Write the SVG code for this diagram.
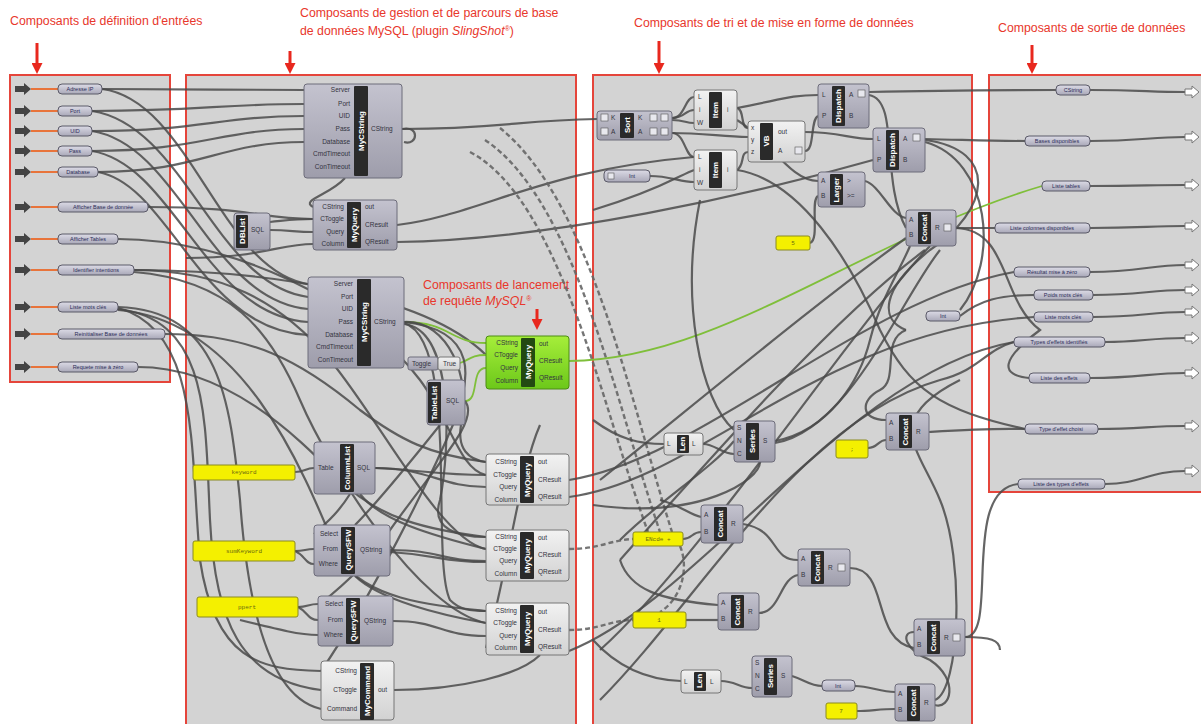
<svg xmlns="http://www.w3.org/2000/svg" width="1201" height="724" viewBox="0 0 1201 724">
<defs>
<linearGradient id="gComp" x1="0" y1="0" x2="0" y2="1"><stop offset="0" stop-color="#c4c3cf"/><stop offset="1" stop-color="#9e9dab"/></linearGradient>
<linearGradient id="gLight" x1="0" y1="0" x2="0" y2="1"><stop offset="0" stop-color="#f2f2f2"/><stop offset="1" stop-color="#d2d2d2"/></linearGradient>
<linearGradient id="gPill" x1="0" y1="0" x2="0" y2="1"><stop offset="0" stop-color="#dcdbe6"/><stop offset="1" stop-color="#a9a8b8"/></linearGradient>
<linearGradient id="gGreen" x1="0" y1="0" x2="0" y2="1"><stop offset="0" stop-color="#a6ee3a"/><stop offset="1" stop-color="#6cc81a"/></linearGradient>
<marker id="ra" markerWidth="11" markerHeight="11" refX="1" refY="5.5" orient="auto" markerUnits="userSpaceOnUse"><path d="M0,0 L11,5.5 L0,11 Z" fill="#e8281e"/></marker>
</defs>
<style>
.panel{fill:#d3d3d3;stroke:#e5453b;stroke-width:2}
.title{font-family:"Liberation Sans",Arial,sans-serif;font-size:12.3px;fill:#e8372c}
.rarrow{stroke:#e8281e;stroke-width:3;fill:none}
.comp{fill:url(#gComp);stroke:#6d6c7a;stroke-width:1}
.light{fill:url(#gLight);stroke:#777;stroke-width:1}
.green{fill:url(#gGreen);stroke:#4c8c14;stroke-width:1}
.band{fill:#2a2a2a}
.gband{fill:#234a12}
.pl{font-family:"Liberation Sans",Arial,sans-serif;font-size:6.5px;fill:#333340}
.pe{text-anchor:end}
.vl{font-family:"Liberation Sans",Arial,sans-serif;font-size:8px;font-weight:bold;fill:#ffffff;text-anchor:middle}
.pill{fill:url(#gPill);stroke:#5b5a68;stroke-width:1}
.pt{font-family:"Liberation Sans",Arial,sans-serif;font-size:5.5px;fill:#2c2c58;text-anchor:middle}
.yel{fill:#f4f000;stroke:#8a8a20;stroke-width:1}
.yt{font-family:"Liberation Mono",monospace;font-size:6px;fill:#6a6a10;text-anchor:middle}
.wire{fill:none;stroke:#4a4a4a;stroke-width:2.2;opacity:0.85}
.dash{fill:none;stroke:#666;stroke-width:2.4;stroke-dasharray:5 3;opacity:0.9}
.gw{fill:none;stroke:#7fbf3a;stroke-width:1.8}
.or{stroke:#e8743b;stroke-width:2}
.inarr{fill:#444}
.outarr{fill:#ffffff;stroke:#777;stroke-width:1}
.ic{fill:#e8e8ee;stroke:#555;stroke-width:0.6}
</style>

<g id="panels">
<rect class="panel" x="10" y="75" width="160" height="307"/>
<rect class="panel" x="186" y="75" width="390" height="652"/>
<rect class="panel" x="593" y="75" width="379" height="652"/>
<rect class="panel" x="989" y="75" width="215" height="417"/>
</g>

<g id="titles">
<text class="title" x="10" y="25">Composants de définition d'entrées</text>
<text class="title" x="300" y="17">Composants de gestion et de parcours de base</text>
<text class="title" x="300" y="35">de données MySQL (plugin <tspan font-style="italic">SlingShot</tspan><tspan font-size="7px" dy="-4">®</tspan><tspan dy="4">)</tspan></text>
<text class="title" x="634" y="27">Composants de tri et de mise en forme de données</text>
<text class="title" x="998" y="32">Composants de sortie de données</text>
<text class="title" x="423" y="289">Composants de lancement</text>
<text class="title" x="423" y="305">de requête <tspan font-style="italic">MySQL</tspan><tspan font-size="7px" dy="-4">®</tspan></text>
<line class="rarrow" x1="37" y1="43" x2="37" y2="64" marker-end="url(#ra)"/>
<line class="rarrow" x1="290" y1="51" x2="290" y2="64" marker-end="url(#ra)"/>
<line class="rarrow" x1="659" y1="41" x2="659" y2="64" marker-end="url(#ra)"/>
<line class="rarrow" x1="1032" y1="45" x2="1032" y2="64" marker-end="url(#ra)"/>
<line class="rarrow" x1="537" y1="309" x2="537" y2="320" marker-end="url(#ra)"/>
</g>

<g id="connectors">
<path class="wire" d="M102,89 C200,89 220,90 304,90"/>
<path class="wire" d="M92,111 C200,111 220,104 304,104"/>
<path class="wire" d="M92,131 C200,131 220,116 304,116"/>
<path class="wire" d="M92,151 C200,151 220,129 304,129"/>
<path class="wire" d="M98,172 C200,172 220,142 304,142"/>
<path class="wire" d="M102,89 C190,100 220,270 308,284"/>
<path class="wire" d="M92,111 C185,125 215,285 308,297"/>
<path class="wire" d="M92,131 C180,145 210,300 308,309"/>
<path class="wire" d="M92,151 C175,165 205,315 308,322"/>
<path class="wire" d="M98,172 C170,185 200,330 308,335"/>
<path class="wire" d="M148,207 C250,207 260,219 313,219"/>
<path class="wire" d="M118,239 C230,239 360,300 420,380 C450,420 460,470 486,475"/>
<path class="wire" d="M134,270 C220,270 280,300 330,360 C380,420 440,540 486,549"/>
<path class="wire" d="M134,272 C230,280 270,330 300,400 C330,470 420,610 486,623"/>
<path class="wire" d="M134,270 C250,270 420,290 486,355"/>
<path class="wire" d="M118,307 C220,310 230,400 240,500 C250,640 280,700 321,709"/>
<path class="wire" d="M118,309 C210,320 205,420 210,520 C215,620 240,680 321,690"/>
<path class="wire" d="M118,308 C200,330 190,450 200,560 C215,660 260,670 321,671"/>
<path class="wire" d="M165,334 C250,334 300,360 360,410 C400,440 430,455 486,462"/>
<path class="wire" d="M138,367 C230,367 300,440 340,480 C380,520 430,530 486,537"/>
<path class="wire" d="M118,310 C240,320 300,460 340,560 C370,600 430,605 486,611"/>
<path class="wire" d="M402,129 C420,125 418,146 404,142"/>
<path class="wire" d="M345,178 C330,195 300,200 313,207"/>
<path class="wire" d="M270,230 C290,230 295,232 313,232"/>
<path class="wire" d="M270,222 C290,220 295,219 313,219"/>
<path class="wire" d="M402,129 C500,129 520,120 597,119"/>
<path class="wire" d="M186,258 C260,258 280,244 313,244"/>
<path class="wire" d="M397,225 C480,215 540,170 694,157"/>
<path class="wire" d="M397,242 C550,240 750,195 873,160"/>
<path class="gw" d="M404,322 C450,322 450,343 486,343"/>
<path class="gw" d="M460,363 C470,360 470,355 486,355"/>
<path class="gw" d="M465,401 C480,401 470,368 486,368"/>
<path class="wire" d="M404,322 C450,320 470,380 462,420 C455,450 470,460 486,462"/>
<path class="wire" d="M404,324 C455,330 450,450 440,500 C430,530 460,537 486,537"/>
<path class="wire" d="M404,323 C460,340 430,560 450,600 C460,610 470,611 486,611"/>
<path class="wire" d="M404,322 C480,330 470,380 455,420 C430,480 370,600 321,671"/>
<path class="wire" d="M465,401 C480,420 440,460 390,530 C370,560 350,580 320,604"/>
<path class="wire" d="M440,425 C420,450 380,500 355,525"/>
<path class="wire" d="M295,472 C305,472 305,468 314,468"/>
<path class="wire" d="M375,468 C430,468 440,487 486,487"/>
<path class="wire" d="M375,468 C420,470 440,475 486,475"/>
<path class="wire" d="M295,551 C305,551 305,549 314,549"/>
<path class="wire" d="M295,551 C305,555 305,564 314,564"/>
<path class="wire" d="M390,550 C440,550 440,561 486,561"/>
<path class="wire" d="M390,552 C440,555 440,562 486,562"/>
<path class="wire" d="M298,607 C308,607 308,604 318,604"/>
<path class="wire" d="M298,607 C308,612 308,620 318,620"/>
<path class="wire" d="M240,620 C280,630 300,635 318,635"/>
<path class="wire" d="M393,621 C440,621 440,636 486,636"/>
<path class="wire" d="M394,690 C460,690 520,675 540,655"/>
<path class="wire" d="M350,494 C340,510 330,520 314,534"/>
<path class="wire" d="M360,494 C380,520 430,535 486,549"/>
<path class="wire" d="M355,576 C380,600 440,615 486,623"/>
<path class="wire" d="M540,425 C520,470 510,560 486,648"/>
<path class="dash" d="M470,152 C560,200 600,400 648,532"/>
<path class="dash" d="M485,140 C575,200 615,400 660,532"/>
<path class="dash" d="M500,128 C590,200 630,400 672,532"/>
<path class="dash" d="M569,549 C600,549 610,540 633,539"/>
<path class="dash" d="M569,630 C600,630 610,620 633,620"/>
<path class="dash" d="M680,546 C690,570 680,600 660,612"/>
<path class="gw" d="M569,361 C720,360 860,240 1042,186"/>
<path class="wire" d="M672,118 C685,118 685,97 694,97"/>
<path class="wire" d="M672,118 C685,118 685,110 694,110"/>
<path class="wire" d="M672,120 C685,120 685,123 694,123"/>
<path class="wire" d="M672,133 C685,133 685,157 694,157"/>
<path class="wire" d="M672,133 C700,133 720,136 748,137"/>
<path class="wire" d="M650,176 C670,176 680,182 694,182"/>
<path class="wire" d="M593,210 C660,190 680,175 694,170"/>
<path class="wire" d="M737,108 C780,100 790,95 818,95"/>
<path class="wire" d="M737,108 C745,110 740,128 748,128"/>
<path class="wire" d="M737,170 C745,165 740,152 748,152"/>
<path class="wire" d="M805,132 C840,132 850,139 873,139"/>
<path class="wire" d="M805,151 C815,151 810,120 818,116"/>
<path class="wire" d="M737,120 C770,140 790,181 818,181"/>
<path class="wire" d="M810,243 C820,240 810,200 818,196"/>
<path class="wire" d="M869,92 C950,90 1000,90 1056,90"/>
<path class="wire" d="M925,139 C970,140 990,141 1025,141"/>
<path class="wire" d="M956,228 C975,228 980,228 995,228"/>
<path class="wire" d="M956,228 C1010,230 1000,300 1040,330 C1000,360 1000,375 1029,378"/>
<path class="wire" d="M960,316 C980,300 1000,295 1034,295"/>
<path class="wire" d="M925,142 C990,160 1000,260 960,310"/>
<path class="wire" d="M925,140 C1000,150 990,210 930,250 C880,290 880,320 906,330"/>
<path class="wire" d="M869,95 C900,100 880,180 906,228"/>
<path class="wire" d="M865,181 C880,185 890,215 906,218"/>
<path class="wire" d="M737,170 C800,180 850,260 880,330 C910,390 940,410 1025,429"/>
<path class="wire" d="M569,480 C700,460 860,300 1014,272"/>
<path class="wire" d="M569,497 C700,480 820,330 1034,317"/>
<path class="wire" d="M569,651 C700,600 850,370 1014,342"/>
<path class="wire" d="M600,480 C700,400 820,300 906,238"/>
<path class="wire" d="M620,560 C700,470 830,320 925,250"/>
<path class="wire" d="M600,650 C700,560 850,330 930,246"/>
<path class="wire" d="M703,444 C715,444 722,454 734,454"/>
<path class="wire" d="M593,420 C620,440 640,444 664,444"/>
<path class="wire" d="M775,441 C830,430 860,380 870,340 C880,300 900,270 910,246"/>
<path class="wire" d="M775,443 C850,430 900,300 940,250"/>
<path class="wire" d="M734,430 C700,400 680,300 700,200"/>
<path class="wire" d="M734,441 C710,470 660,500 620,540"/>
<path class="wire" d="M886,420 C860,420 860,400 880,390 C900,380 880,340 906,330"/>
<path class="wire" d="M868,448 C878,448 878,440 886,440"/>
<path class="wire" d="M929,432 C960,430 990,428 1025,429"/>
<path class="wire" d="M683,539 C692,539 692,532 701,532"/>
<path class="wire" d="M660,500 C680,505 690,515 701,517"/>
<path class="wire" d="M743,524 C780,530 770,560 798,560"/>
<path class="wire" d="M759,613 C780,613 780,578 798,575"/>
<path class="wire" d="M686,620 C700,620 705,620 718,620"/>
<path class="wire" d="M620,560 C630,590 660,600 718,605"/>
<path class="wire" d="M850,568 C890,568 870,640 914,648"/>
<path class="wire" d="M914,632 C900,632 905,650 930,660 C960,680 950,710 935,705"/>
<path class="wire" d="M965,637 C1000,637 960,490 1018,484"/>
<path class="wire" d="M965,637 C990,637 1000,640 1000,650"/>
<path class="wire" d="M593,640 C620,670 650,680 681,681"/>
<path class="wire" d="M721,681 C735,681 740,688 752,688"/>
<path class="wire" d="M792,676 C805,680 810,686 822,686"/>
<path class="wire" d="M855,686 C870,686 880,692 895,692"/>
<path class="wire" d="M857,711 C870,711 880,709 895,709"/>
<path class="wire" d="M935,700 C960,690 965,560 940,500 C920,450 880,420 960,380"/>
<path class="wire" d="M593,505 C700,520 760,480 760,462"/>
<path class="wire" d="M600,700 C700,600 800,420 940,380 C980,370 985,350 1014,342"/>
<path class="wire" d="M1090,90 C1140,90 1150,92 1185,92"/>
<path class="wire" d="M1090,141 C1140,141 1150,137 1185,137"/>
<path class="wire" d="M1090,186 C1140,186 1150,185 1185,185"/>
<path class="wire" d="M1090,228 C1140,228 1150,226 1185,226"/>
<path class="wire" d="M1090,272 C1140,272 1150,265 1185,265"/>
<path class="wire" d="M1093,295 C1140,295 1150,290 1185,290"/>
<path class="wire" d="M1093,317 C1140,317 1150,312 1185,312"/>
<path class="wire" d="M1105,342 C1140,342 1150,338 1185,338"/>
<path class="wire" d="M1090,378 C1140,378 1150,373 1185,373"/>
<path class="wire" d="M1098,429 C1140,429 1150,426 1185,426"/>
<path class="wire" d="M1105,484 C1140,484 1150,471 1185,471"/>
</g>

<g id="inputs">
<g id="in-adresse"><polygon class="inarr" points="15,86 24,86 24,83 31,89 24,95 24,92 15,92"/><line class="or" x1="31" y1="89" x2="58" y2="89"/><rect class="pill" x="58" y="84" width="44" height="10" rx="4"/><text class="pt" x="80" y="91">Adresse IP</text></g>
<g id="in-port"><polygon class="inarr" points="15,108 24,108 24,105 31,111 24,117 24,114 15,114"/><line class="or" x1="31" y1="111" x2="58" y2="111"/><rect class="pill" x="58" y="106" width="34" height="10" rx="4"/><text class="pt" x="75" y="113">Port</text></g>
<g id="in-uid"><polygon class="inarr" points="15,128 24,128 24,125 31,131 24,137 24,134 15,134"/><line class="or" x1="31" y1="131" x2="58" y2="131"/><rect class="pill" x="58" y="126" width="34" height="10" rx="4"/><text class="pt" x="75" y="133">UID</text></g>
<g id="in-pass"><polygon class="inarr" points="15,148 24,148 24,145 31,151 24,157 24,154 15,154"/><line class="or" x1="31" y1="151" x2="58" y2="151"/><rect class="pill" x="58" y="146" width="34" height="10" rx="4"/><text class="pt" x="75" y="153">Pass</text></g>
<g id="in-database"><polygon class="inarr" points="15,169 24,169 24,166 31,172 24,178 24,175 15,175"/><line class="or" x1="31" y1="172" x2="58" y2="172"/><rect class="pill" x="58" y="167" width="40" height="10" rx="4"/><text class="pt" x="78" y="174">Database</text></g>
<g id="in-afficher-base"><polygon class="inarr" points="15,204 24,204 24,201 31,207 24,213 24,210 15,210"/><line class="or" x1="31" y1="207" x2="58" y2="207"/><rect class="pill" x="58" y="202" width="90" height="10" rx="4"/><text class="pt" x="103" y="209">Afficher Base de donnée</text></g>
<g id="in-afficher-tables"><polygon class="inarr" points="15,236 24,236 24,233 31,239 24,245 24,242 15,242"/><line class="or" x1="31" y1="239" x2="58" y2="239"/><rect class="pill" x="58" y="234" width="60" height="10" rx="4"/><text class="pt" x="88" y="241">Afficher Tables</text></g>
<g id="in-identifier"><polygon class="inarr" points="15,267 24,267 24,264 31,270 24,276 24,273 15,273"/><line class="or" x1="31" y1="270" x2="58" y2="270"/><rect class="pill" x="58" y="265" width="76" height="10" rx="4"/><text class="pt" x="96" y="272">Identifier intentions</text></g>
<g id="in-liste-mots"><polygon class="inarr" points="15,304 24,304 24,301 31,307 24,313 24,310 15,310"/><line class="or" x1="31" y1="307" x2="58" y2="307"/><rect class="pill" x="58" y="302" width="60" height="10" rx="4"/><text class="pt" x="88" y="309">Liste mots clés</text></g>
<g id="in-reinit"><polygon class="inarr" points="15,331 24,331 24,328 31,334 24,340 24,337 15,337"/><line class="or" x1="31" y1="334" x2="58" y2="334"/><rect class="pill" x="58" y="329" width="107" height="10" rx="4"/><text class="pt" x="111" y="336">Reinitialiser Base de données</text></g>
<g id="in-requete"><polygon class="inarr" points="15,364 24,364 24,361 31,367 24,373 24,370 15,370"/><line class="or" x1="31" y1="367" x2="58" y2="367"/><rect class="pill" x="58" y="362" width="80" height="10" rx="4"/><text class="pt" x="98" y="369">Requete mise à zéro</text></g>
</g>

<g id="mycstring1">
<rect class="comp" x="304" y="84" width="98" height="94" rx="3"/>
<rect class="band" x="354" y="86" width="14" height="90" rx="1"/>
<text class="vl" transform="translate(364,131) rotate(-90)">MyCString</text>
<text class="pl pe" x="350" y="92">Server</text><text class="pl pe" x="350" y="106">Port</text><text class="pl pe" x="350" y="118">UID</text><text class="pl pe" x="350" y="131">Pass</text><text class="pl pe" x="350" y="144">Database</text><text class="pl pe" x="350" y="156">CmdTimeout</text><text class="pl pe" x="350" y="169">ConTimeout</text>
<text class="pl" x="371" y="131">CString</text>
</g>
<g id="myquery1">
<rect class="comp" x="313" y="200" width="84" height="50" rx="3"/>
<rect class="band" x="347" y="202" width="14" height="46" rx="1"/>
<text class="vl" transform="translate(357,225) rotate(-90)">MyQuery</text>
<text class="pl pe" x="344" y="209">CString</text><text class="pl pe" x="344" y="221">CToggle</text><text class="pl pe" x="344" y="234">Query</text><text class="pl pe" x="344" y="246">Column</text>
<text class="pl" x="365" y="209">out</text><text class="pl" x="365" y="227">CResult</text><text class="pl" x="365" y="244">QResult</text>
</g>
<g id="dblist">
<rect class="comp" x="234" y="213" width="36" height="37" rx="3"/>
<rect class="band" x="236" y="215" width="12" height="33" rx="1"/>
<text class="vl" font-size="7px" transform="translate(245,231) rotate(-90)">DBList</text>
<text class="pl" x="251" y="232">SQL</text>
</g>
<g id="mycstring2">
<rect class="comp" x="308" y="277" width="96" height="91" rx="3"/>
<rect class="band" x="357" y="279" width="14" height="87" rx="1"/>
<text class="vl" transform="translate(367,322) rotate(-90)">MyCString</text>
<text class="pl pe" x="353" y="286">Server</text><text class="pl pe" x="353" y="299">Port</text><text class="pl pe" x="353" y="311">UID</text><text class="pl pe" x="353" y="324">Pass</text><text class="pl pe" x="353" y="337">Database</text><text class="pl pe" x="353" y="349">CmdTimeout</text><text class="pl pe" x="353" y="362">ConTimeout</text>
<text class="pl" x="374" y="324">CString</text>
</g>
<g id="toggle">
<rect class="comp" x="408" y="357" width="30" height="13" rx="2"/>
<rect class="light" x="438" y="357" width="22" height="13" rx="2"/>
<text class="pl" x="412" y="366">Toggle</text><text class="pl" x="443" y="366">True</text>
</g>
<g id="tablelist">
<rect class="comp" x="427" y="380" width="38" height="45" rx="3"/>
<rect class="band" x="428" y="382" width="13" height="41" rx="1"/>
<text class="vl" font-size="7px" transform="translate(437,403) rotate(-90)">TableList</text>
<text class="pl" x="446" y="403">SQL</text>
</g>
<g id="myquery-green">
<rect class="green" x="486" y="336" width="83" height="53" rx="3"/>
<rect class="gband" x="521" y="338" width="14" height="49" rx="1"/>
<text class="vl" transform="translate(531,362) rotate(-90)">MyQuery</text>
<text class="pl pe" x="518" y="345">CString</text><text class="pl pe" x="518" y="357">CToggle</text><text class="pl pe" x="518" y="370">Query</text><text class="pl pe" x="518" y="383">Column</text>
<text class="pl" x="539" y="346">out</text><text class="pl" x="539" y="363">CResult</text><text class="pl" x="539" y="380">QResult</text>
</g>
<g id="columnlist">
<rect class="comp" x="314" y="442" width="61" height="52" rx="3"/>
<rect class="band" x="340" y="444" width="14" height="48" rx="1"/>
<text class="vl" transform="translate(350,468) rotate(-90)">ColumnList</text>
<text class="pl" x="318" y="470">Table</text><text class="pl" x="357" y="470">SQL</text>
</g>
<g id="keyword"><rect class="yel" x="193" y="465" width="102" height="15" rx="2"/><text class="yt" x="244" y="474">keyword</text></g>
<g id="querysfw1">
<rect class="comp" x="314" y="525" width="76" height="51" rx="3"/>
<rect class="band" x="341" y="527" width="14" height="47" rx="1"/>
<text class="vl" transform="translate(351,550) rotate(-90)">QuerySFW</text>
<text class="pl pe" x="338" y="536">Select</text><text class="pl pe" x="338" y="551">From</text><text class="pl pe" x="338" y="566">Where</text>
<text class="pl" x="360" y="552">QString</text>
</g>
<g id="sumkeyword"><rect class="yel" x="193" y="541" width="102" height="20" rx="2"/><text class="yt" x="244" y="553">sumKeyword</text></g>
<g id="querysfw2">
<rect class="comp" x="318" y="596" width="75" height="50" rx="3"/>
<rect class="band" x="346" y="598" width="14" height="46" rx="1"/>
<text class="vl" transform="translate(356,621) rotate(-90)">QuerySFW</text>
<text class="pl pe" x="343" y="606">Select</text><text class="pl pe" x="343" y="622">From</text><text class="pl pe" x="343" y="637">Where</text>
<text class="pl" x="364" y="623">QString</text>
</g>
<g id="ppert"><rect class="yel" x="197" y="597" width="101" height="20" rx="2"/><text class="yt" x="247" y="609">ppert</text></g>
<g id="mycommand">
<rect class="light" x="321" y="661" width="73" height="59" rx="3"/>
<rect class="band" x="360" y="663" width="14" height="57" rx="1"/>
<text class="vl" transform="translate(370,691) rotate(-90)">MyCommand</text>
<text class="pl pe" x="357" y="673">CString</text><text class="pl pe" x="357" y="692">CToggle</text><text class="pl pe" x="357" y="711">Command</text>
<text class="pl" x="378" y="692">out</text>
</g>
<g id="myquery2">
<rect class="light" x="486" y="454" width="83" height="51" rx="3"/>
<rect class="band" x="520" y="456" width="14" height="47" rx="1"/>
<text class="vl" transform="translate(530,480) rotate(-90)">MyQuery</text>
<text class="pl pe" x="517" y="464">CString</text><text class="pl pe" x="517" y="477">CToggle</text><text class="pl pe" x="517" y="489">Query</text><text class="pl pe" x="517" y="502">Column</text>
<text class="pl" x="538" y="464">out</text><text class="pl" x="538" y="482">CResult</text><text class="pl" x="538" y="499">QResult</text>
</g>
<g id="myquery3">
<rect class="light" x="486" y="530" width="83" height="51" rx="3"/>
<rect class="band" x="520" y="532" width="14" height="47" rx="1"/>
<text class="vl" transform="translate(530,556) rotate(-90)">MyQuery</text>
<text class="pl pe" x="517" y="539">CString</text><text class="pl pe" x="517" y="551">CToggle</text><text class="pl pe" x="517" y="563">Query</text><text class="pl pe" x="517" y="576">Column</text>
<text class="pl" x="538" y="540">out</text><text class="pl" x="538" y="557">CResult</text><text class="pl" x="538" y="574">QResult</text>
</g>
<g id="myquery4">
<rect class="light" x="486" y="603" width="83" height="52" rx="3"/>
<rect class="band" x="520" y="605" width="14" height="48" rx="1"/>
<text class="vl" transform="translate(530,629) rotate(-90)">MyQuery</text>
<text class="pl pe" x="517" y="613">CString</text><text class="pl pe" x="517" y="625">CToggle</text><text class="pl pe" x="517" y="638">Query</text><text class="pl pe" x="517" y="650">Column</text>
<text class="pl" x="538" y="614">out</text><text class="pl" x="538" y="632">CResult</text><text class="pl" x="538" y="649">QResult</text>
</g>

<g id="sort">
<rect class="comp" x="597" y="111" width="75" height="29" rx="3"/>
<rect class="band" x="620" y="113" width="14" height="25" rx="1"/>
<text class="vl" transform="translate(630,125) rotate(-90)">Sort</text>
<rect class="ic" x="601" y="114" width="7" height="7"/><rect class="ic" x="601" y="128" width="7" height="7"/>
<text class="pl" x="611" y="120">K</text><text class="pl" x="611" y="134">A</text>
<text class="pl" x="638" y="120">K</text><text class="pl" x="638" y="134">A</text>
<rect class="ic" x="650" y="114" width="7" height="7"/><rect class="ic" x="661" y="114" width="7" height="7"/>
<rect class="ic" x="650" y="128" width="7" height="7"/><rect class="ic" x="661" y="128" width="7" height="7"/>
</g>
<g id="item1">
<rect class="light" x="694" y="90" width="43" height="40" rx="3"/>
<rect class="band" x="709" y="92" width="13" height="36" rx="1"/>
<text class="vl" font-size="7px" transform="translate(718,110) rotate(-90)">Item</text>
<text class="pl" x="698" y="99">L</text><text class="pl" x="699" y="112">i</text><text class="pl" x="697" y="125">W</text><text class="pl" x="727" y="112">i</text>
</g>
<g id="item2">
<rect class="light" x="694" y="150" width="43" height="40" rx="3"/>
<rect class="band" x="709" y="152" width="13" height="36" rx="1"/>
<text class="vl" font-size="7px" transform="translate(718,170) rotate(-90)">Item</text>
<text class="pl" x="698" y="159">L</text><text class="pl" x="699" y="172">i</text><text class="pl" x="697" y="185">W</text><text class="pl" x="727" y="172">i</text>
</g>
<g id="vb">
<rect class="light" x="748" y="121" width="57" height="41" rx="3"/>
<rect class="band" x="760" y="123" width="13" height="37" rx="1"/>
<text class="vl" font-size="7px" transform="translate(769,141) rotate(-90)">VB</text>
<text class="pl" x="751" y="130">x</text><text class="pl" x="751" y="142">y</text><text class="pl" x="751" y="154">z</text>
<text class="pl" x="778" y="134">out</text><text class="pl" x="778" y="153">A</text><rect class="ic" x="795" y="147" width="7" height="7"/>
</g>
<g id="dispatch1">
<rect class="comp" x="818" y="84" width="51" height="44" rx="3"/>
<rect class="band" x="832" y="86" width="13" height="40" rx="1"/>
<text class="vl" font-size="7px" transform="translate(841,106) rotate(-90)">Dispatch</text>
<text class="pl" x="822" y="97">L</text><text class="pl" x="822" y="118">P</text><text class="pl" x="849" y="97">A</text><text class="pl" x="849" y="118">B</text>
<rect class="ic" x="858" y="90" width="7" height="7"/>
</g>
<g id="dispatch2">
<rect class="comp" x="873" y="128" width="52" height="44" rx="3"/>
<rect class="band" x="886" y="130" width="13" height="40" rx="1"/>
<text class="vl" font-size="7px" transform="translate(895,150) rotate(-90)">Dispatch</text>
<text class="pl" x="877" y="141">L</text><text class="pl" x="877" y="162">P</text><text class="pl" x="903" y="141">A</text><text class="pl" x="903" y="162">B</text>
<rect class="ic" x="913" y="134" width="7" height="7"/>
</g>
<g id="larger">
<rect class="comp" x="818" y="172" width="47" height="35" rx="3"/>
<rect class="band" x="830" y="174" width="13" height="31" rx="1"/>
<text class="vl" font-size="7px" transform="translate(839,190) rotate(-90)">Larger</text>
<text class="pl" x="821" y="183">A</text><text class="pl" x="821" y="198">B</text><text class="pl" x="847" y="183">&gt;</text><text class="pl" x="847" y="198">&gt;=</text>
</g>
<g id="int1"><rect class="pill" x="604" y="170" width="46" height="12" rx="4"/><rect class="ic" x="608" y="173" width="6" height="6"/><text class="pt" x="632" y="178">Int</text></g>
<g id="five"><rect class="yel" x="776" y="236" width="34" height="14" rx="2"/><text class="yt" x="793" y="245">5</text></g>
<g id="concat1">
<rect class="comp" x="906" y="210" width="50" height="36" rx="3"/>
<rect class="band" x="918" y="212" width="13" height="32" rx="1"/>
<text class="vl" font-size="7px" transform="translate(927,228) rotate(-90)">Concat</text>
<text class="pl" x="909" y="222">A</text><text class="pl" x="909" y="237">B</text><text class="pl" x="935" y="230">R</text>
<rect class="ic" x="944" y="224" width="7" height="7"/>
</g>
<g id="int2"><rect class="pill" x="926" y="311" width="34" height="10" rx="4"/><text class="pt" x="943" y="318">Int</text></g>
<g id="len1">
<rect class="light" x="664" y="433" width="39" height="22" rx="3"/>
<rect class="band" x="677" y="435" width="12" height="18" rx="1"/>
<text class="vl" font-size="6px" transform="translate(685,444) rotate(-90)">Len</text>
<text class="pl" x="667" y="446">L</text><text class="pl" x="692" y="446">L</text>
</g>
<g id="series1">
<rect class="comp" x="734" y="421" width="41" height="41" rx="3"/>
<rect class="band" x="746" y="423" width="13" height="37" rx="1"/>
<text class="vl" font-size="7px" transform="translate(755,441) rotate(-90)">Series</text>
<text class="pl" x="737" y="430">S</text><text class="pl" x="737" y="443">N</text><text class="pl" x="737" y="456">C</text><text class="pl" x="763" y="443">S</text>
</g>
<g id="concat2">
<rect class="comp" x="886" y="413" width="43" height="37" rx="3"/>
<rect class="band" x="899" y="415" width="13" height="33" rx="1"/>
<text class="vl" font-size="7px" transform="translate(908,432) rotate(-90)">Concat</text>
<text class="pl" x="889" y="425">A</text><text class="pl" x="889" y="441">B</text><text class="pl" x="916" y="434">R</text>
</g>
<g id="semi"><rect class="yel" x="836" y="440" width="32" height="18" rx="2"/><text class="yt" x="852" y="451">;</text></g>
<g id="concat3">
<rect class="comp" x="701" y="505" width="42" height="38" rx="3"/>
<rect class="band" x="714" y="507" width="13" height="34" rx="1"/>
<text class="vl" font-size="7px" transform="translate(723,524) rotate(-90)">Concat</text>
<text class="pl" x="704" y="517">A</text><text class="pl" x="704" y="534">B</text><text class="pl" x="731" y="526">R</text>
</g>
<g id="encode"><rect class="yel" x="633" y="532" width="50" height="14" rx="2"/><text class="yt" x="658" y="541">ENcde +</text></g>
<g id="concat4">
<rect class="comp" x="798" y="549" width="52" height="37" rx="3"/>
<rect class="band" x="811" y="551" width="13" height="33" rx="1"/>
<text class="vl" font-size="7px" transform="translate(820,568) rotate(-90)">Concat</text>
<text class="pl" x="801" y="561">A</text><text class="pl" x="801" y="577">B</text><text class="pl" x="828" y="570">R</text>
<rect class="ic" x="838" y="564" width="7" height="7"/>
</g>
<g id="concat5">
<rect class="comp" x="718" y="593" width="41" height="37" rx="3"/>
<rect class="band" x="731" y="595" width="13" height="33" rx="1"/>
<text class="vl" font-size="7px" transform="translate(740,612) rotate(-90)">Concat</text>
<text class="pl" x="721" y="605">A</text><text class="pl" x="721" y="621">B</text><text class="pl" x="748" y="614">R</text>
</g>
<g id="one"><rect class="yel" x="633" y="612" width="53" height="16" rx="2"/><text class="yt" x="659" y="622">1</text></g>
<g id="concat6">
<rect class="comp" x="914" y="619" width="51" height="37" rx="3"/>
<rect class="band" x="927" y="621" width="13" height="33" rx="1"/>
<text class="vl" font-size="7px" transform="translate(936,638) rotate(-90)">Concat</text>
<text class="pl" x="917" y="631">A</text><text class="pl" x="917" y="647">B</text><text class="pl" x="944" y="640">R</text>
<rect class="ic" x="953" y="634" width="7" height="7"/>
</g>
<g id="len2">
<rect class="light" x="681" y="670" width="40" height="23" rx="3"/>
<rect class="band" x="694" y="672" width="12" height="19" rx="1"/>
<text class="vl" font-size="6px" transform="translate(702,681) rotate(-90)">Len</text>
<text class="pl" x="684" y="684">L</text><text class="pl" x="710" y="684">L</text>
</g>
<g id="series2">
<rect class="comp" x="752" y="656" width="40" height="41" rx="3"/>
<rect class="band" x="764" y="658" width="13" height="37" rx="1"/>
<text class="vl" font-size="7px" transform="translate(773,676) rotate(-90)">Series</text>
<text class="pl" x="755" y="665">S</text><text class="pl" x="755" y="678">N</text><text class="pl" x="755" y="691">C</text><text class="pl" x="781" y="678">S</text>
</g>
<g id="int3"><rect class="pill" x="822" y="680" width="33" height="11" rx="4"/><text class="pt" x="838" y="688">Int</text></g>
<g id="seven"><rect class="yel" x="826" y="703" width="31" height="16" rx="2"/><text class="yt" x="841" y="713">7</text></g>
<g id="concat7">
<rect class="comp" x="895" y="684" width="40" height="37" rx="3"/>
<rect class="band" x="907" y="686" width="13" height="35" rx="1"/>
<text class="vl" font-size="7px" transform="translate(916,703) rotate(-90)">Concat</text>
<text class="pl" x="898" y="696">A</text><text class="pl" x="898" y="712">B</text><text class="pl" x="924" y="705">R</text>
</g>

<g id="outputs">
<g id="out-cstring"><rect class="pill" x="1056" y="85" width="34" height="10" rx="4"/><text class="pt" x="1073" y="92">CString</text><polygon class="outarr" points="1185,89 1192,89 1192,86 1199,92 1192,98 1192,95 1185,95"/></g>
<g id="out-bases"><rect class="pill" x="1025" y="136" width="65" height="10" rx="4"/><text class="pt" x="1057" y="143">Bases disponibles</text><polygon class="outarr" points="1185,134 1192,134 1192,131 1199,137 1192,143 1192,140 1185,140"/></g>
<g id="out-tables"><rect class="pill" x="1042" y="181" width="48" height="10" rx="4"/><text class="pt" x="1066" y="188">Liste tables</text><polygon class="outarr" points="1185,182 1192,182 1192,179 1199,185 1192,191 1192,188 1185,188"/></g>
<g id="out-colonnes"><rect class="pill" x="995" y="223" width="95" height="10" rx="4"/><text class="pt" x="1042" y="230">Liste colonnes disponibles</text><polygon class="outarr" points="1185,223 1192,223 1192,220 1199,226 1192,232 1192,229 1185,229"/></g>
<g id="out-resultat"><rect class="pill" x="1014" y="267" width="76" height="10" rx="4"/><text class="pt" x="1052" y="274">Résultat mise à zéro</text><polygon class="outarr" points="1185,262 1192,262 1192,259 1199,265 1192,271 1192,268 1185,268"/></g>
<g id="out-poids"><rect class="pill" x="1034" y="290" width="59" height="10" rx="4"/><text class="pt" x="1063" y="297">Poids mots clés</text><polygon class="outarr" points="1185,287 1192,287 1192,284 1199,290 1192,296 1192,293 1185,293"/></g>
<g id="out-mots"><rect class="pill" x="1034" y="312" width="59" height="10" rx="4"/><text class="pt" x="1063" y="319">Liste mots clés</text><polygon class="outarr" points="1185,309 1192,309 1192,306 1199,312 1192,318 1192,315 1185,315"/></g>
<g id="out-types"><rect class="pill" x="1014" y="337" width="91" height="10" rx="4"/><text class="pt" x="1059" y="344">Types d'effets identifiés</text><polygon class="outarr" points="1185,335 1192,335 1192,332 1199,338 1192,344 1192,341 1185,341"/></g>
<g id="out-effets"><rect class="pill" x="1029" y="373" width="61" height="10" rx="4"/><text class="pt" x="1059" y="380">Liste des effets</text><polygon class="outarr" points="1185,370 1192,370 1192,367 1199,373 1192,379 1192,376 1185,376"/></g>
<g id="out-choisi"><rect class="pill" x="1025" y="424" width="73" height="10" rx="4"/><text class="pt" x="1061" y="431">Type d'effet choisi</text><polygon class="outarr" points="1185,423 1192,423 1192,420 1199,426 1192,432 1192,429 1185,429"/></g>
<g id="out-listetypes"><rect class="pill" x="1018" y="479" width="87" height="10" rx="4"/><text class="pt" x="1061" y="486">Liste des types d'effets</text><polygon class="outarr" points="1185,468 1192,468 1192,465 1199,471 1192,477 1192,474 1185,474"/></g>
</g>
</svg>
